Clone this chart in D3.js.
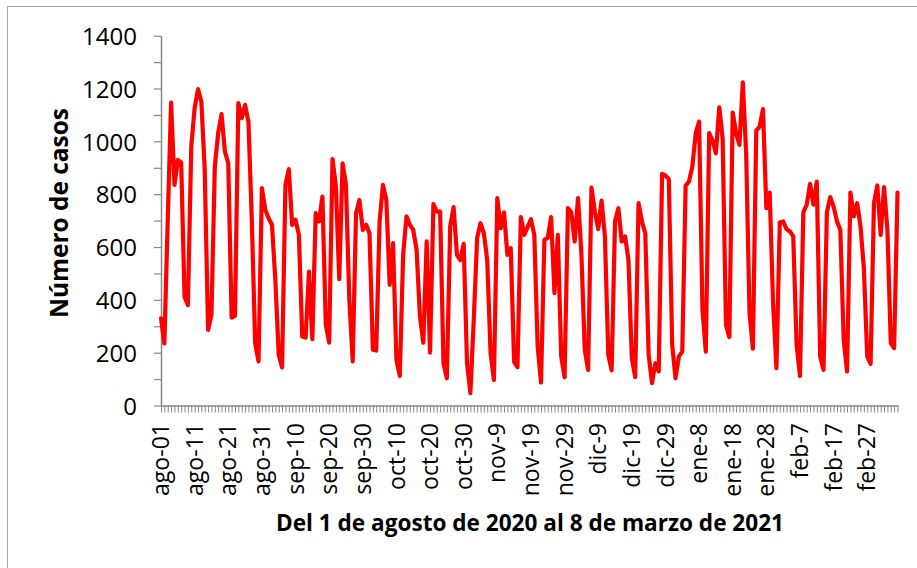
<!DOCTYPE html>
<html>
<head>
<meta charset="utf-8">
<script src="https://cdn.jsdelivr.net/npm/d3@7"></script>
<style>
  html, body { margin: 0; padding: 0; background: #ffffff; }
  svg { display: block; }
  text { font-family: "Open Sans", "Noto Sans", "DejaVu Sans", sans-serif; fill: #000; }
</style>
</head>
<body>
<svg id="chart" width="917" height="568"></svg>
<script>
// ---- DATA ----
const startDate = new Date(2020, 7, 1);   // 1 ago 2020
const endDate = new Date(2021, 2, 9);     // exclusive -> 8 mar 2021
const categories = d3.timeDay.range(startDate, endDate);

const casos = [
  330, 235, 700, 1147, 835, 930, 920, 412, 380, 980,
  1126, 1198, 1151, 892, 286, 343, 905, 1031, 1103, 962,
  917, 333, 339, 1145, 1088, 1138, 1075, 703, 236, 167,
  823, 741, 709, 684, 476, 192, 144, 835, 895, 684,
  703, 646, 261, 257, 507, 251, 728, 697, 791, 305,
  238, 933, 830, 478, 917, 835, 400, 167, 728, 778,
  665, 684, 652, 211, 208, 697, 835, 778, 457, 615,
  173, 112, 570, 716, 684, 665, 589, 337, 238, 621,
  200, 762, 734, 734, 160, 103, 678, 751, 570, 551,
  612, 160, 47, 324, 634, 690, 652, 551, 198, 97,
  785, 671, 731, 570, 596, 165, 145, 713, 646, 675,
  705, 646, 223, 87, 627, 634, 713, 425, 646, 186,
  107, 747, 731, 621, 785, 577, 211, 135, 825, 734,
  668, 776, 640, 192, 133, 697, 747, 621, 640, 551,
  179, 107, 766, 697, 652, 192, 85, 160, 129, 877,
  870, 857, 230, 103, 186, 204, 832, 848, 905, 1031,
  1075, 362, 204, 1031, 1003, 955, 1129, 1012, 305, 259,
  1109, 1031, 987, 1223, 955, 350, 215, 1041, 1056, 1122,
  747, 806, 387, 141, 693, 697, 668, 659, 640, 230,
  112, 731, 760, 839, 760, 848, 186, 135, 731, 789,
  753, 697, 665, 249, 129, 806, 716, 766, 678, 520,
  186, 158, 766, 833, 646, 827, 665, 236, 217, 806
];

const xTickLabels = [
  "ago-01", "ago-11", "ago-21", "ago-31", "sep-10", "sep-20", "sep-30",
  "oct-10", "oct-20", "oct-30", "nov-9", "nov-19", "nov-29", "dic-9",
  "dic-19", "dic-29", "ene-8", "ene-18", "ene-28", "feb-7", "feb-17", "feb-27"
];
const yTickValues = [0, 100, 200, 300, 400, 500, 600, 700, 800, 900, 1000, 1100, 1200, 1300, 1400];
const yTickLabels = ["0", "200", "400", "600", "800", "1000", "1200", "1400"];

const yTitle = "Número de casos";
const xTitle = "Del 1 de agosto de 2020 al 8 de marzo de 2021";

// ---- LAYOUT ----
const svg = d3.select("#chart");
const plotLeft = 161, plotRight = 897.5, plotTop = 35.7, plotBottom = 405.5;
const axisColor = "#878787";

// chart-area border
svg.append("rect")
  .attr("x", 7.5).attr("y", 6.5)
  .attr("width", 1200).attr("height", 1200)
  .attr("fill", "none").attr("stroke", "#a6a6a6").attr("stroke-width", 1);

const x = d3.scalePoint()
  .domain(d3.range(categories.length))
  .range([plotLeft, plotRight]);

const y = d3.scaleLinear()
  .domain([0, 1400])
  .range([plotBottom, plotTop]);

function fitText(sel, target) {
  const node = sel.node();
  const fs = parseFloat(sel.attr("font-size"));
  const w = node.getComputedTextLength();
  if (w > 0) sel.attr("font-size", (fs * target / w).toFixed(2));
}

// Y axis
const yLabelSet = new Set(yTickLabels.map(Number));
const yAxis = d3.axisLeft(y)
  .tickValues(yTickValues)
  .tickFormat(d => yLabelSet.has(d) ? String(d) : "")
  .tickSize(7)
  .tickSizeOuter(0)
  .tickPadding(10);

const gy = svg.append("g")
  .attr("transform", `translate(${plotLeft},0)`)
  .call(yAxis);
gy.attr("font-family", null);
gy.select(".domain").attr("stroke", axisColor).attr("stroke-width", 1.5);
gy.selectAll(".tick line").attr("stroke", axisColor).attr("stroke-width", 1.2);
gy.selectAll(".tick text")
  .attr("font-size", 22)
  .attr("fill", "#000")
  .attr("x", -24)
  .attr("dy", "0.36em");
{
  const t = gy.selectAll(".tick text").filter(d => d === 1400);
  const w = t.node().getComputedTextLength();
  const fs = 22 * 55 / w;
  gy.selectAll(".tick text").attr("font-size", fs.toFixed(2));
}

// X axis: tick at every category
const labelByIndex = {};
xTickLabels.forEach((lab, k) => { labelByIndex[k * 10] = lab; });

const xAxis = d3.axisBottom(x)
  .tickValues(d3.range(categories.length))
  .tickFormat(i => labelByIndex[i] || "")
  .tickSize(7)
  .tickSizeOuter(0);

const gx = svg.append("g")
  .attr("transform", `translate(0,${plotBottom})`)
  .call(xAxis);
gx.attr("font-family", null);
gx.select(".domain").attr("stroke", axisColor).attr("stroke-width", 1.5)
  .attr("d", `M${plotLeft},0.5H${plotRight + 1}`);
gx.selectAll(".tick line").attr("stroke", axisColor).attr("stroke-width", 1);
gx.selectAll(".tick text")
  .attr("font-size", 22)
  .attr("fill", "#000")
  .attr("text-anchor", "end")
  .attr("transform", "rotate(-90)")
  .attr("x", -17.5)
  .attr("y", 0)
  .attr("dy", "0.33em");
{
  const t = gx.selectAll(".tick text").filter(i => i === 0);
  const w = t.node().getComputedTextLength();
  const fs = 22 * 73 / w;
  gx.selectAll(".tick text").attr("font-size", fs.toFixed(2));
}

// Line
const line = d3.line()
  .x((d, i) => x(i))
  .y(d => y(d));

svg.append("path")
  .datum(casos)
  .attr("d", line)
  .attr("fill", "none")
  .attr("stroke", "#ff0000")
  .attr("stroke-width", 4.2)
  .attr("stroke-linejoin", "round")
  .attr("stroke-linecap", "round");

// Axis titles
const yt = svg.append("text")
  .attr("transform", "translate(68,213) rotate(-90)")
  .attr("text-anchor", "middle")
  .attr("font-weight", "bold")
  .attr("font-size", 22)
  .text(yTitle);
fitText(yt, 210);

const xt = svg.append("text")
  .attr("x", 530)
  .attr("y", 531)
  .attr("text-anchor", "middle")
  .attr("font-weight", "bold")
  .attr("font-size", 22)
  .text(xTitle);
fitText(xt, 508);
</script>
</body>
</html>
